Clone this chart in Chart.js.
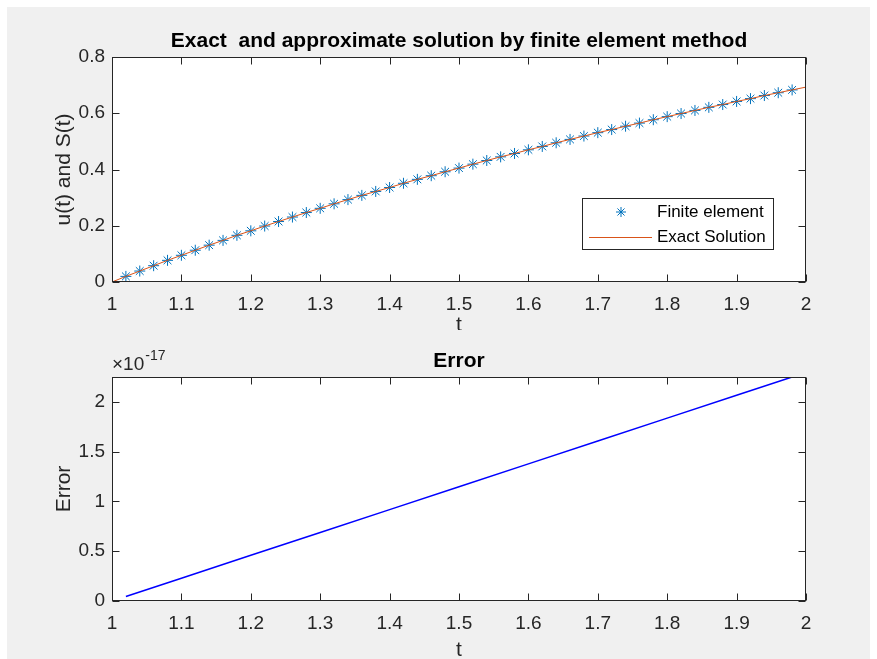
<!DOCTYPE html>
<html>
<head>
<meta charset="utf-8">
<script src="https://cdn.jsdelivr.net/npm/chart.js@4.4.1/dist/chart.umd.min.js"></script>
<style>
  html, body { margin: 0; padding: 0; background: #fff; }
  #fig { position: absolute; left: 7px; top: 7px; width: 863px; height: 652px; background: #f0f0f0; }
  canvas { position: absolute; left: 0; }
  #topChart { top: 0; }
  #bottomChart { top: 330px; }
</style>
</head>
<body>
<div id="fig"></div>
<canvas id="topChart" width="877" height="330"></canvas>
<canvas id="bottomChart" width="877" height="329"></canvas>
<script>
// finite element nodes and values
const tFinite = [1.02, 1.04, 1.06, 1.08, 1.10, 1.12, 1.14, 1.16, 1.18, 1.20,
                 1.22, 1.24, 1.26, 1.28, 1.30, 1.32, 1.34, 1.36, 1.38, 1.40,
                 1.42, 1.44, 1.46, 1.48, 1.50, 1.52, 1.54, 1.56, 1.58, 1.60,
                 1.62, 1.64, 1.66, 1.68, 1.70, 1.72, 1.74, 1.76, 1.78, 1.80,
                 1.82, 1.84, 1.86, 1.88, 1.90, 1.92, 1.94, 1.96, 1.98];
const uFinite = [0.020, 0.039, 0.058, 0.077, 0.095, 0.113, 0.131, 0.148, 0.166, 0.182,
                 0.199, 0.215, 0.231, 0.247, 0.262, 0.278, 0.293, 0.308, 0.322, 0.336,
                 0.351, 0.365, 0.378, 0.392, 0.405, 0.419, 0.432, 0.445, 0.457, 0.470,
                 0.482, 0.495, 0.507, 0.519, 0.531, 0.542, 0.554, 0.565, 0.577, 0.588,
                 0.599, 0.610, 0.621, 0.631, 0.642, 0.652, 0.663, 0.673, 0.683];

// exact solution curve
const tExact = [1.00, 1.02, 1.04, 1.06, 1.08, 1.10, 1.12, 1.14, 1.16, 1.18, 1.20,
                1.22, 1.24, 1.26, 1.28, 1.30, 1.32, 1.34, 1.36, 1.38, 1.40,
                1.42, 1.44, 1.46, 1.48, 1.50, 1.52, 1.54, 1.56, 1.58, 1.60,
                1.62, 1.64, 1.66, 1.68, 1.70, 1.72, 1.74, 1.76, 1.78, 1.80,
                1.82, 1.84, 1.86, 1.88, 1.90, 1.92, 1.94, 1.96, 1.98, 2.00];
const uExact = [0.000, 0.020, 0.039, 0.058, 0.077, 0.095, 0.113, 0.131, 0.148, 0.166, 0.182,
                0.199, 0.215, 0.231, 0.247, 0.262, 0.278, 0.293, 0.308, 0.322, 0.336,
                0.351, 0.365, 0.378, 0.392, 0.405, 0.419, 0.432, 0.445, 0.457, 0.470,
                0.482, 0.495, 0.507, 0.519, 0.531, 0.542, 0.554, 0.565, 0.577, 0.588,
                0.599, 0.610, 0.621, 0.631, 0.642, 0.652, 0.663, 0.673, 0.683, 0.693];

// error, in units of 1e-17
const tError = [1.02, 1.10, 1.20, 1.30, 1.40, 1.50, 1.60, 1.70, 1.80, 1.90, 1.98];
const errorE17 = [0.045, 0.229, 0.459, 0.688, 0.918, 1.148, 1.377, 1.607, 1.837, 2.067, 2.250];

const xTicks = [1, 1.1, 1.2, 1.3, 1.4, 1.5, 1.6, 1.7, 1.8, 1.9, 2];
const yTicksTop = [0, 0.2, 0.4, 0.6, 0.8];
const yTicksBottom = [0, 0.5, 1, 1.5, 2];

const FONT = "'Liberation Sans', Arial, sans-serif";
const AXIS_COLOR = '#262626';

const toPoints = (xs, ys) => xs.map((x, i) => ({ x: x, y: ys[i] }));

// matlab-like box, inward ticks, titles and legend
const matlabAxes = {
    id: 'matlabAxes',
    beforeDraw(chart) {
        const { ctx, chartArea: a } = chart;
        ctx.save();
        ctx.fillStyle = '#fff';
        ctx.fillRect(a.left, a.top, a.right - a.left, a.bottom - a.top);
        ctx.restore();
    },
    afterDraw(chart, args, opts) {
        const { ctx, chartArea: a, scales } = chart;
        const L = Math.round(a.left) + 0.5, R = Math.round(a.right) - 0.5;
        const T = Math.round(a.top) + 0.5, B = Math.round(a.bottom) - 0.5;
        ctx.save();
        ctx.strokeStyle = AXIS_COLOR;
        ctx.lineWidth = 1;
        ctx.strokeRect(L, T, R - L, B - T);
        ctx.beginPath();
        scales.x.ticks.forEach(t => {
            const px = Math.round(scales.x.getPixelForValue(t.value)) + 0.5;
            ctx.moveTo(px, B); ctx.lineTo(px, B - 7);
            ctx.moveTo(px, T); ctx.lineTo(px, T + 7);
        });
        scales.y.ticks.forEach(t => {
            const py = Math.round(scales.y.getPixelForValue(t.value)) + 0.5;
            ctx.moveTo(L, py); ctx.lineTo(L + 7, py);
            ctx.moveTo(R, py); ctx.lineTo(R - 7, py);
        });
        ctx.stroke();

        const cx = (a.left + a.right) / 2;
        ctx.fillStyle = '#000';
        ctx.textAlign = 'center';
        ctx.textBaseline = 'middle';
        ctx.font = 'bold 21px ' + FONT;
        ctx.fillText(opts.title, cx, opts.titleY);

        ctx.fillStyle = AXIS_COLOR;
        ctx.font = '21px ' + FONT;
        ctx.fillText('t', cx, opts.xlabelY);
        ctx.save();
        ctx.translate(64, (a.top + a.bottom) / 2);
        ctx.rotate(-Math.PI / 2);
        ctx.fillText(opts.ylabel, 0, 0);
        ctx.restore();

        if (opts.exponent) {
            ctx.textAlign = 'left';
            ctx.textBaseline = 'alphabetic';
            ctx.font = '19px ' + FONT;
            ctx.fillText('\u00d710', a.left, a.top - 7);
            const w = ctx.measureText('\u00d710').width;
            ctx.font = '14px ' + FONT;
            ctx.fillText(opts.exponent, a.left + w + 1, a.top - 17);
        }

        if (opts.legend) {
            const bx = 582.5, by = 198.5, bw = 191, bh = 51;
            ctx.fillStyle = '#fff';
            ctx.fillRect(bx, by, bw, bh);
            ctx.strokeStyle = AXIS_COLOR;
            ctx.strokeRect(bx, by, bw, bh);
            // star marker sample
            ctx.strokeStyle = '#0072BD';
            ctx.beginPath();
            const mx = 621, my = 212, r = 5;
            for (let k = 0; k < 4; k++) {
                const ang = k * Math.PI / 4;
                ctx.moveTo(mx - r * Math.cos(ang), my - r * Math.sin(ang));
                ctx.lineTo(mx + r * Math.cos(ang), my + r * Math.sin(ang));
            }
            ctx.stroke();
            ctx.strokeStyle = '#D95319';
            ctx.beginPath();
            ctx.moveTo(589, 237.5); ctx.lineTo(652, 237.5);
            ctx.stroke();
            ctx.fillStyle = '#000';
            ctx.textAlign = 'left';
            ctx.textBaseline = 'middle';
            ctx.font = '17px ' + FONT;
            ctx.fillText('Finite element', 657, 212);
            ctx.fillText('Exact Solution', 657, 237);
        }
        ctx.restore();
    }
};

function xScale(axisHeight) {
    return {
        type: 'linear', min: 1, max: 2,
        grid: { display: false, drawTicks: false },
        border: { display: false },
        afterBuildTicks: s => { s.ticks = xTicks.map(v => ({ value: v })); },
        afterFit: s => { s.height = axisHeight; },
        ticks: {
            padding: 11, maxRotation: 0, autoSkip: false,
            color: AXIS_COLOR, font: { family: FONT, size: 19 },
            callback: v => String(v)
        }
    };
}

function yScale(max, tickList) {
    return {
        type: 'linear', min: 0, max: max,
        grid: { display: false, drawTicks: false },
        border: { display: false },
        afterBuildTicks: s => { s.ticks = tickList.map(v => ({ value: v })); },
        afterFit: s => { s.width = 112; },
        ticks: {
            padding: 7, color: AXIS_COLOR, font: { family: FONT, size: 19 },
            callback: v => String(v)
        }
    };
}

new Chart(document.getElementById('topChart'), {
    type: 'scatter',
    data: {
        datasets: [{
            label: 'Finite element',
            data: toPoints(tFinite, uFinite),
            showLine: false,
            pointStyle: 'star',
            pointRadius: 5.5,
            pointBorderWidth: 1,
            borderColor: '#0072BD',
            backgroundColor: '#0072BD',
            order: 1
        }, {
            label: 'Exact Solution',
            data: toPoints(tExact, uExact),
            showLine: true,
            pointRadius: 0,
            borderWidth: 1,
            borderColor: '#D95319',
            order: 0
        }]
    },
    options: {
        responsive: false,
        animation: false,
        layout: { padding: { left: 0, top: 57, right: 71, bottom: 0 } },
        scales: { x: xScale(48), y: yScale(0.8, yTicksTop) },
        plugins: {
            legend: { display: false },
            tooltip: { enabled: false },
            matlabAxes: {
                title: 'Exact  and approximate solution by finite element method',
                titleY: 41, xlabelY: 325, ylabel: 'u(t) and S(t)', legend: true
            }
        }
    },
    plugins: [matlabAxes]
});

new Chart(document.getElementById('bottomChart'), {
    type: 'scatter',
    data: {
        datasets: [{
            label: 'Error',
            data: toPoints(tError, errorE17),
            showLine: true,
            pointRadius: 0,
            borderWidth: 1.5,
            borderColor: '#0000FF'
        }]
    },
    options: {
        responsive: false,
        animation: false,
        layout: { padding: { left: 0, top: 47, right: 71, bottom: 0 } },
        scales: { x: xScale(58), y: yScale(2.25, yTicksBottom) },
        plugins: {
            legend: { display: false },
            tooltip: { enabled: false },
            matlabAxes: {
                title: 'Error', titleY: 31, xlabelY: 320, ylabel: 'Error',
                exponent: '-17'
            }
        }
    },
    plugins: [matlabAxes]
});
</script>
</body>
</html>
